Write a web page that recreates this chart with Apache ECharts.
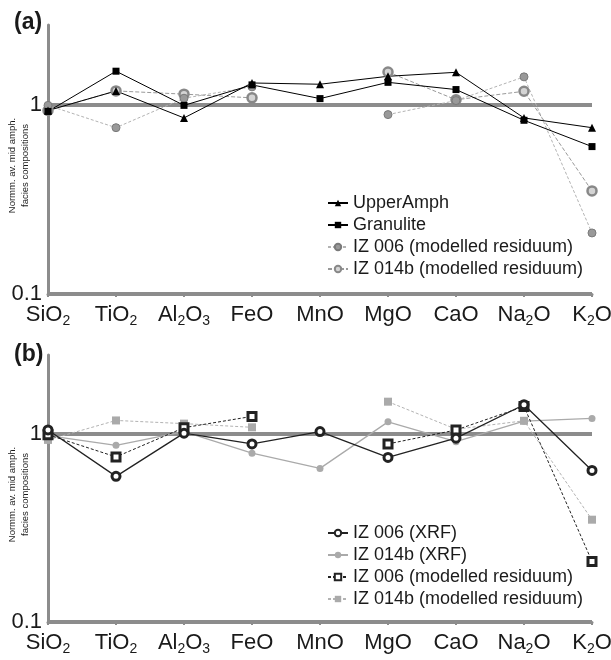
<!DOCTYPE html>
<html>
<head>
<meta charset="utf-8">
<script src="https://cdn.jsdelivr.net/npm/echarts@6/dist/echarts.min.js"></script>
<style>
html, body { margin: 0; padding: 0; background: #fff; }
#main { width: 611px; height: 660px; }
</style>
</head>
<body>
<div id="main"></div>
<script>
// oxides on the x axis, values normalised to mid amphibolite facies
var categories = ['SiO2', 'TiO2', 'Al2O3', 'FeO', 'MnO', 'MgO', 'CaO', 'Na2O', 'K2O'];
var yTicks = [0.1, 1];

// panel (a)
var upperAmph = [0.93, 1.18, 0.85, 1.30, 1.28, 1.41, 1.48, 0.85, 0.755];
var granulite = [0.92, 1.50, 0.99, 1.27, 1.075, 1.31, 1.20, 0.826, 0.60];

// modelled residuum (shown in both panels)
var iz006Mod = [0.99, 0.755, 1.08, 1.24, null, 0.885, 1.05, 1.40, 0.21];
var iz014bMod = [0.93, 1.18, 1.135, 1.085, null, 1.485, 1.06, 1.175, 0.35];

// panel (b) XRF
var iz006Xrf = [1.05, 0.595, 1.01, 0.885, 1.03, 0.75, 0.95, 1.43, 0.64];
var iz014bXrf = [0.98, 0.87, 1.03, 0.79, 0.656, 1.16, 0.91, 1.17, 1.21];

var myChart = echarts.init(document.getElementById('main'));

var axisGrey = '#8c8c8c';
var txt = '#1a1a1a';
var font = 'Liberation Sans, Arial, sans-serif';

function xAxisFor(gi) {
  return {
    type: 'category',
    gridIndex: gi,
    data: categories,
    boundaryGap: false,
    axisLine: { lineStyle: { color: axisGrey, width: 3 } },
    axisTick: { length: 3, lineStyle: { color: axisGrey, width: 2 } },
    axisLabel: {
      interval: 0,
      hideOverlap: false,
      margin: 8,
      fontSize: 22,
      lineHeight: 26,
      color: txt,
      fontFamily: font,
      formatter: function (v) { return v.replace(/(\d)/g, '{s|$1}'); },
      rich: { s: { fontSize: 14, lineHeight: 14, verticalAlign: 'bottom', color: txt, fontFamily: font } }
    },
    splitLine: { show: false }
  };
}

function yAxisFor(gi) {
  return {
    type: 'log',
    logBase: 10,
    gridIndex: gi,
    min: 0.1,
    max: 2.63,
    name: 'Normm. av. mid amph.\nfacies compositions',
    nameLocation: 'middle',
    nameRotate: 90,
    nameGap: 16,
    nameMoveOverlap: false,
    nameTextStyle: { fontSize: 9.5, lineHeight: 13, color: txt, fontFamily: font, padding: [0, 12, 0, 0] },
    axisLine: { show: true, lineStyle: { color: axisGrey, width: 3 } },
    axisTick: { show: false },
    axisLabel: {
      fontSize: 22,
      margin: 6,
      color: txt,
      fontFamily: font,
      showMaxLabel: false,
      formatter: function (v) {
        var r = Math.round(v * 1000) / 1000;
        return yTicks.indexOf(r) >= 0 ? String(r) : '';
      }
    },
    splitLine: { show: true, showMaxLine: false, lineStyle: { color: axisGrey, width: 4 } }
  };
}

function line(name, data, gi, symbol, size, itemStyle, lineStyle) {
  return {
    name: name,
    type: 'line',
    xAxisIndex: gi,
    yAxisIndex: gi,
    data: data,
    symbol: symbol,
    symbolSize: size,
    itemStyle: itemStyle,
    lineStyle: lineStyle,
    emphasis: { disabled: true },
    animation: false
  };
}

var B = ' [b]';
var legendText = { fontSize: 18, color: txt, fontFamily: font };
function stripTag(n) { return n.replace(B, ''); }

var option = {
  backgroundColor: '#fff',
  title: [
    { text: '(a)', left: 9, top: 6, textStyle: { fontSize: 23, fontWeight: 'bold', color: txt, fontFamily: font } },
    { text: '(b)', left: 9, top: 338, textStyle: { fontSize: 23, fontWeight: 'bold', color: txt, fontFamily: font } }
  ],
  grid: [
    { left: 48, top: 25, width: 544, height: 269, containLabel: false, outerBoundsMode: 'none' },
    { left: 48, top: 355, width: 544, height: 267, containLabel: false, outerBoundsMode: 'none' }
  ],
  xAxis: [xAxisFor(0), xAxisFor(1)],
  yAxis: [yAxisFor(0), yAxisFor(1)],
  legend: [
    {
      orient: 'vertical', left: 322, top: 189, itemGap: 4, itemWidth: 20, itemHeight: 8,
      textStyle: legendText, formatter: stripTag,
      data: ['UpperAmph', 'Granulite', 'IZ 006 (modelled residuum)', 'IZ 014b (modelled residuum)']
    },
    {
      orient: 'vertical', left: 322, top: 519, itemGap: 4, itemWidth: 20, itemHeight: 8,
      textStyle: legendText, formatter: stripTag,
      data: ['IZ 006 (XRF)', 'IZ 014b (XRF)', 'IZ 006 (modelled residuum)' + B, 'IZ 014b (modelled residuum)' + B]
    }
  ],
  series: [
    // (a)
    line('IZ 014b (modelled residuum)', iz014bMod, 0, 'circle', 9,
      { color: '#d4d4d4', borderColor: '#888', borderWidth: 2.5 },
      { color: '#999', width: 1, type: [4, 2] }),
    line('IZ 006 (modelled residuum)', iz006Mod, 0, 'circle', 8,
      { color: '#999', borderColor: '#7a7a7a', borderWidth: 1 },
      { color: '#b3b3b3', width: 1, type: [3, 2] }),
    line('Granulite', granulite, 0, 'rect', 7,
      { color: '#000' }, { color: '#000', width: 1 }),
    line('UpperAmph', upperAmph, 0, 'triangle', 8,
      { color: '#000' }, { color: '#000', width: 1 }),
    // (b)
    line('IZ 014b (modelled residuum)' + B, iz014bMod, 1, 'rect', 8,
      { color: '#aaa' }, { color: '#b3b3b3', width: 1, type: [3, 2] }),
    line('IZ 014b (XRF)', iz014bXrf, 1, 'circle', 7,
      { color: '#aaa' }, { color: '#aaa', width: 1.3 }),
    line('IZ 006 (modelled residuum)' + B, iz006Mod, 1, 'rect', 8,
      { color: '#fff', borderColor: '#222', borderWidth: 3 }, { color: '#222', width: 1, type: [3, 2] }),
    line('IZ 006 (XRF)', iz006Xrf, 1, 'circle', 8,
      { color: '#fff', borderColor: '#222', borderWidth: 3 }, { color: '#222', width: 1.3 })
  ]
};

myChart.setOption(option);
</script>
</body>
</html>
